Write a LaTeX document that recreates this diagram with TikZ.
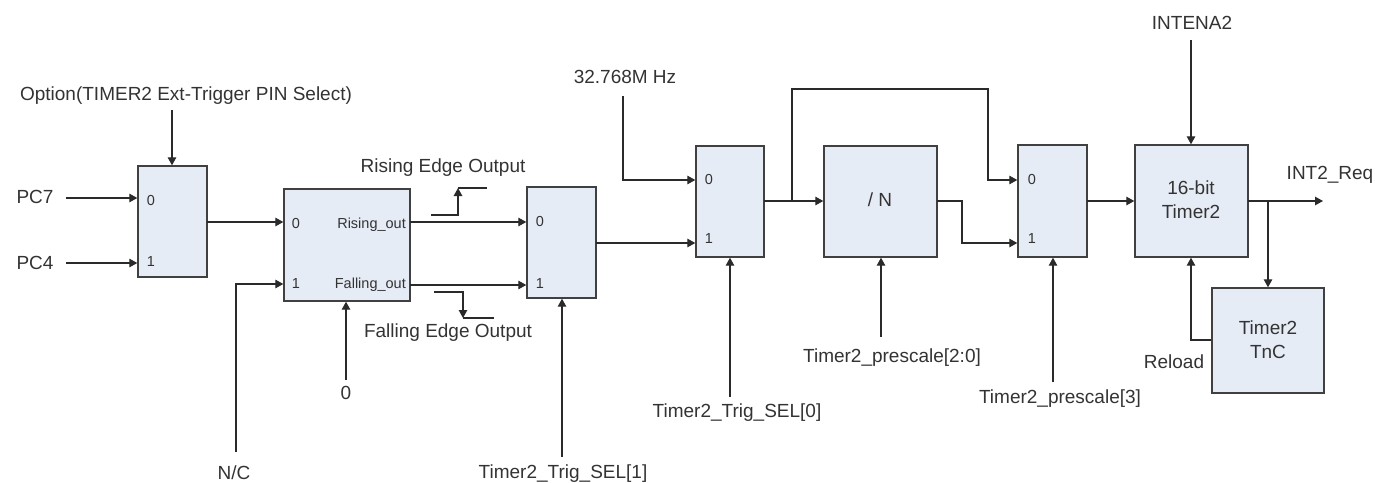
\documentclass[tikz,border=0pt]{standalone}
\usepackage{fontspec}
\setmainfont{Liberation Sans}
\usetikzlibrary{arrows.meta}
\definecolor{boxfill}{HTML}{E6ECF6}
\definecolor{boxline}{HTML}{404040}
\definecolor{txt}{HTML}{333333}
\definecolor{wire}{HTML}{2A2A2A}
\begin{document}
\begin{tikzpicture}[x=1pt,y=-1pt,
  blk/.style={draw=boxline,fill=boxfill,line width=1.4pt,inner sep=0pt},
  lbl/.style={text=txt,font=\fontsize{19}{23}\selectfont,inner sep=0pt},
  sml/.style={text=txt,font=\fontsize{14.5}{17}\selectfont,inner sep=0pt},
  wr/.style={draw=wire,line width=1.3pt},
  arr/.style={wr,-{Triangle[length=8pt,width=8.5pt]}}]
\useasboundingbox (0,0) rectangle (1375,482);
% blocks
\node[blk,minimum width=69pt,minimum height=111pt] (m1) at (172.5,221.5) {};
\node[blk,minimum width=126pt,minimum height=112pt] (ed) at (347,245) {};
\node[blk,minimum width=69pt,minimum height=111pt] (m3) at (561.5,242.5) {};
\node[blk,minimum width=68pt,minimum height=111pt] (m4) at (730,201.5) {};
\node[blk,minimum width=113pt,minimum height=111pt] (dv) at (880.5,201.5) {};
\node[blk,minimum width=69pt,minimum height=112pt] (m5) at (1052.5,201) {};
\node[blk,minimum width=113pt,minimum height=112pt] (tm) at (1191.5,201) {};
\node[blk,minimum width=112pt,minimum height=105pt] (tc) at (1268,340.5) {};
% texts inside blocks
\node[sml] (m1a) at (151,201) {0};
\node[sml] (m1b) at (151,262) {1};
\node[sml] (eda) at (296,224) {0};
\node[sml] (edb) at (296,284) {1};
\node[sml,anchor=east] (edr) at (406,225) {Rising\_out};
\node[sml,anchor=east] (edf) at (406,285) {Falling\_out};
\node[sml] (m3a) at (540,222) {0};
\node[sml] (m3b) at (540,284) {1};
\node[sml] (m4a) at (709,180) {0};
\node[sml] (m4b) at (709,239) {1};
\node[lbl] (dvt) at (880,200) {/ N};
\node[sml] (m5a) at (1032,180) {0};
\node[sml] (m5b) at (1032,239) {1};
\node[lbl,align=center] (tmt) at (1191,200) {16-bit\\[1pt]Timer2};
\node[lbl,align=center] (tct) at (1268,340) {Timer2\\[1pt]TnC};
% outside labels
\node[lbl] (opt) at (186,96) {Option(TIMER2 Ext-Trigger PIN Select)};
\node[lbl] (pc7) at (35,197) {PC7};
\node[lbl] (pc4) at (35,263) {PC4};
\node[lbl] (rel) at (443,168) {Rising Edge Output};
\node[lbl] (fel) at (448,333) {Falling Edge Output};
\node[lbl] (zer) at (346,393) {0};
\node[lbl] (nc) at (234,473) {N/C};
\node[lbl] (ts1) at (563,474) {Timer2\_Trig\_SEL[1]};
\node[lbl] (clk) at (625,77) {32.768M Hz};
\node[lbl] (ts0) at (737,413) {Timer2\_Trig\_SEL[0]};
\node[lbl] (ps20) at (892,358) {Timer2\_prescale[2:0]};
\node[lbl] (ps3) at (1060,399) {Timer2\_prescale[3]};
\node[lbl] (ien) at (1192,23) {INTENA2};
\node[lbl] (irq) at (1330,175) {INT2\_Req};
\node[lbl] (rld) at (1174,362) {Reload};
% free-end coordinates
\coordinate (c-opt) at (172,110);
\coordinate (c-pc7) at (66,198);
\coordinate (c-pc4) at (66,263);
\coordinate (c-m1o) at (207,222);
\coordinate (c-nc) at (236,452);
\coordinate (c-nci) at (236,284);
\coordinate (c-zer) at (346,380);
\coordinate (c-ro) at (410,222);
\coordinate (c-fo) at (410,285);
\coordinate (r1) at (431,215);
\coordinate (r2) at (458,188);
\coordinate (r3) at (487,188);
\coordinate (f1) at (434,292);
\coordinate (f2) at (463,318);
\coordinate (f3) at (494,318);
\coordinate (c-ts1) at (562,457);
\coordinate (c-m3o) at (596,243);
\coordinate (c-clk) at (623,96);
\coordinate (c-clki) at (623,180);
\coordinate (c-ts0) at (730,397);
\coordinate (c-m4o) at (764,201);
\coordinate (j1) at (792,201);
\coordinate (fb1) at (792,89);
\coordinate (fb2) at (988,89);
\coordinate (fb3) at (988,180);
\coordinate (c-dvo) at (937,201);
\coordinate (dv1) at (962,201);
\coordinate (dv2) at (962,243);
\coordinate (c-ps20) at (881,337);
\coordinate (c-ps3) at (1053,382);
\coordinate (c-m5o) at (1087,201);
\coordinate (c-ien) at (1191,40);
\coordinate (c-tmo) at (1248,201);
\coordinate (c-irq) at (1323,201);
\coordinate (j2) at (1268,201);
\coordinate (c-rl) at (1191,340);
% connectors
\draw[arr] (c-opt) -- (c-opt |- m1.north);
\draw[arr] (c-pc7) -- (c-pc7 -| m1.west);
\draw[arr] (c-pc4) -- (c-pc4 -| m1.west);
\draw[arr] (c-m1o) -- (c-m1o -| ed.west);
\draw[arr] (c-nc) -- (c-nci) -- (c-nci -| ed.west);
\draw[arr] (c-zer) -- (c-zer |- ed.south);
\draw[arr] (c-ro) -- (c-ro -| m3.west);
\draw[arr] (c-fo) -- (c-fo -| m3.west);
\draw[arr] (r1) -| (r2);
\draw[wr] (r2) -- (r3);
\draw[arr] (f1) -| (f2);
\draw[wr] (f2) -- (f3);
\draw[arr] (c-ts1) -- (c-ts1 |- m3.south);
\draw[arr] (c-m3o) -- (c-m3o -| m4.west);
\draw[arr] (c-clk) -- (c-clki) -- (c-clki -| m4.west);
\draw[arr] (c-ts0) -- (c-ts0 |- m4.south);
\draw[arr] (c-m4o) -- (c-m4o -| dv.west);
\draw[arr] (j1) -- (fb1) -- (fb2) -- (fb3) -- (fb3 -| m5.west);
\draw[arr] (c-dvo) -- (dv1) -- (dv2) -- (dv2 -| m5.west);
\draw[arr] (c-ps20) -- (c-ps20 |- dv.south);
\draw[arr] (c-ps3) -- (c-ps3 |- m5.south);
\draw[arr] (c-m5o) -- (c-m5o -| tm.west);
\draw[arr] (c-ien) -- (c-ien |- tm.north);
\draw[arr] (c-tmo) -- (c-irq);
\draw[arr] (j2) -- (j2 |- tc.north);
\draw[arr] (c-rl -| tc.west) -- (c-rl) -- (c-rl |- tm.south);
\end{tikzpicture}
\end{document}
